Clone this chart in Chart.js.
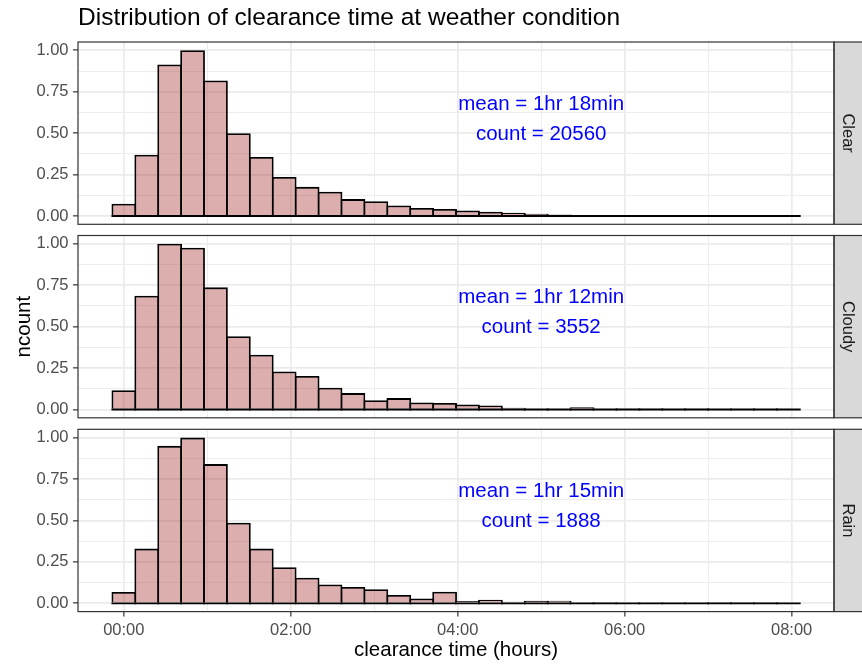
<!DOCTYPE html>
<html>
<head>
<meta charset="utf-8">
<title>Clearance time by weather condition</title>
<script src="https://cdn.jsdelivr.net/npm/chart.js@4.4.1/dist/chart.umd.min.js"></script>
<style>
  html, body { margin: 0; padding: 0; background: #fff; }
  #wrap { position: relative; width: 862px; height: 664px; overflow: hidden; }
  #wrap canvas { position: absolute; left: 0; }
</style>
</head>
<body>
<div id="wrap">
  <canvas id="clear" width="862" height="240" style="top:0px"></canvas>
  <canvas id="cloudy" width="862" height="214" style="top:220px"></canvas>
  <canvas id="rain" width="862" height="250" style="top:414px"></canvas>
</div>
<script>
// histogram bins: 30 bins, one centred on 0h
const binWidth = 0.2745; // hours

const weather = ['Clear', 'Cloudy', 'Rain'];

// ncount per bin (count / max count of the panel)
const clearNcount = [
  0.074, 0.370, 0.914, 1.000, 0.818, 0.500, 0.356, 0.236, 0.176, 0.146,
  0.102, 0.089, 0.064, 0.048, 0.042, 0.034, 0.026, 0.020, 0.014, 0.009,
  0.006, 0.004, 0.003, 0.002, 0.002, 0.001, 0.001, 0.001, 0.001, 0.000
];
const cloudyNcount = [
  0.116, 0.687, 1.000, 0.976, 0.737, 0.442, 0.331, 0.230, 0.202, 0.132,
  0.099, 0.056, 0.069, 0.042, 0.040, 0.030, 0.024, 0.010, 0.005, 0.005,
  0.014, 0.000, 0.003, 0.003, 0.006, 0.003, 0.000, 0.000, 0.000, 0.000
];
const rainNcount = [
  0.068, 0.330, 0.950, 1.000, 0.840, 0.486, 0.330, 0.218, 0.155, 0.114,
  0.098, 0.085, 0.050, 0.029, 0.070, 0.014, 0.022, 0.010, 0.015, 0.016,
  0.000, 0.006, 0.000, 0.000, 0.000, 0.000, 0.004, 0.004, 0.004, 0.000
];

const meanMinutes = [78, 72, 75];
const counts = [20560, 3552, 1888];

const xTickHours = [0, 2, 4, 6, 8];
const xTickLabels = ['00:00', '02:00', '04:00', '06:00', '08:00'];
const xMinorHours = [1, 3, 5, 7];
const yTickValues = [0, 0.25, 0.5, 0.75, 1];
const yTickLabels = ['0.00', '0.25', '0.50', '0.75', '1.00'];
const yMinorValues = [0.125, 0.375, 0.625, 0.875];

Chart.defaults.font.family = "'Liberation Sans', Arial, sans-serif";

const OUTLINE = 1.8;
// bars overlap by one outline width so neighbouring edges share a single line
const BAR_OVERLAP = 1 + OUTLINE / 22.9;

function fmtMean(min) {
  return 'mean = ' + Math.floor(min / 60) + 'hr ' + (min % 60) + 'min';
}

// panel border, facet strip on the right and the mean/count note
const panelDecor = {
  id: 'panelDecor',
  afterDraw(chart, args, opts) {
    const { ctx, chartArea: a } = chart;
    const x = chart.scales.x, y = chart.scales.y;
    ctx.save();

    // note
    ctx.fillStyle = '#0000FF';
    ctx.font = "20.5px 'Liberation Sans', Arial, sans-serif";
    ctx.textAlign = 'center';
    ctx.textBaseline = 'middle';
    const nx = x.getPixelForValue(5);
    const ny = y.getPixelForValue(0.585);
    opts.note.forEach((line, i) => {
      ctx.fillText(line, nx, ny + (i - (opts.note.length - 1) / 2) * 30);
    });

    // strip
    ctx.fillStyle = '#D9D9D9';
    ctx.fillRect(a.right, a.top, 40, a.height);
    ctx.strokeStyle = '#333333';
    ctx.lineWidth = 1.2;
    ctx.strokeRect(a.right, a.top, 40, a.height);
    ctx.fillStyle = '#1A1A1A';
    ctx.font = "16.5px 'Liberation Sans', Arial, sans-serif";
    ctx.translate(a.right + 14, (a.top + a.bottom) / 2);
    ctx.rotate(Math.PI / 2);
    ctx.fillText(opts.strip, 0, 0);
    ctx.restore();

    // panel border
    ctx.save();
    ctx.strokeStyle = '#333333';
    ctx.lineWidth = 1.2;
    ctx.strokeRect(a.left, a.top, a.width, a.height);
    ctx.restore();
  }
};

function makePanel(id, values, idx, extra) {
  const isBottom = !!extra.bottom;
  const xMajor = v => xTickHours.includes(v);
  const yMajor = v => yTickValues.includes(v);
  const centres = values.map((v, i) => i * binWidth);

  return new Chart(document.getElementById(id), {
    type: 'bar',
    data: {
      datasets: [{
        // bin outlines along zero (empty bins show as a flat line)
        data: centres.map(c => ({ x: c, y: 0 })),
        backgroundColor: '#000000',
        borderWidth: 0,
        minBarLength: OUTLINE,
        inflateAmount: 0,
        grouped: false,
        barPercentage: 1,
        categoryPercentage: BAR_OVERLAP
      }, {
        data: values.map((v, i) => ({ x: centres[i], y: v })),
        backgroundColor: 'rgba(165, 42, 42, 0.38)',
        borderColor: '#000000',
        borderWidth: OUTLINE,
        borderSkipped: 'bottom',
        inflateAmount: 0,
        grouped: false,
        barPercentage: 1,
        categoryPercentage: BAR_OVERLAP
      }]
    },
    options: {
      responsive: false,
      animation: false,
      layout: { padding: extra.padding },
      plugins: {
        legend: { display: false },
        tooltip: { enabled: false },
        title: extra.title ? {
          display: true,
          text: extra.title,
          align: 'start',
          fullSize: false,
          color: '#000000',
          font: { size: 24.5, weight: 'normal' },
          padding: { top: 3.5, bottom: 9.1 }
        } : { display: false },
        panelDecor: {
          strip: weather[idx],
          note: [fmtMean(meanMinutes[idx]), 'count = ' + counts[idx]]
        }
      },
      scales: {
        x: {
          type: 'linear',
          min: -0.549,
          max: 8.508,
          offset: false,
          afterBuildTicks: s => {
            s.ticks = xTickHours.concat(xMinorHours).sort((a, b) => a - b).map(v => ({ value: v }));
          },
          afterFit: s => { s.height = isBottom ? extra.axisHeight : 0; },
          border: { display: false },
          grid: {
            offset: false,
            color: '#EBEBEB',
            lineWidth: c => xMajor(c.tick.value) ? 1.7 : 0.9,
            drawTicks: isBottom,
            tickLength: 5,
            tickWidth: 1.2,
            tickColor: c => xMajor(c.tick.value) ? '#333333' : 'rgba(0,0,0,0)'
          },
          ticks: {
            display: isBottom,
            autoSkip: false,
            maxRotation: 0,
            padding: 4,
            color: '#4D4D4D',
            font: { size: 16.5 },
            callback: v => xMajor(v) ? xTickLabels[xTickHours.indexOf(v)] : ''
          },
          title: isBottom ? {
            display: true,
            text: 'clearance time (hours)',
            color: '#000000',
            font: { size: 20.5 },
            padding: { top: 0, bottom: 1.2 }
          } : { display: false }
        },
        y: {
          min: -0.05,
          max: 1.05,
          afterBuildTicks: s => {
            s.ticks = yTickValues.concat(yMinorValues).sort((a, b) => a - b).map(v => ({ value: v }));
          },
          afterFit: s => { s.width = 78; },
          border: { display: false },
          grid: {
            color: '#EBEBEB',
            lineWidth: c => yMajor(c.tick.value) ? 1.7 : 0.9,
            drawTicks: true,
            tickLength: 5,
            tickWidth: 1.2,
            tickColor: c => yMajor(c.tick.value) ? '#333333' : 'rgba(0,0,0,0)'
          },
          ticks: {
            autoSkip: false,
            padding: 4.5,
            color: '#4D4D4D',
            font: { size: 16.5 },
            callback: v => yMajor(v) ? yTickLabels[yTickValues.indexOf(v)] : ''
          },
          title: extra.yTitle ? {
            display: true,
            text: extra.yTitle,
            color: '#000000',
            font: { size: 20.5 },
            padding: { top: 12.5, bottom: 0 }
          } : { display: false }
        }
      }
    },
    plugins: [panelDecor]
  });
}

makePanel('clear', clearNcount, 0, {
  title: 'Distribution of clearance time at weather condition',
  padding: { left: 0, right: 28, top: 0, bottom: 15.7 }
});
makePanel('cloudy', cloudyNcount, 1, {
  yTitle: 'ncount',
  padding: { left: 0, right: 28, top: 15.5, bottom: 16.2 }
});
makePanel('rain', rainNcount, 2, {
  bottom: true,
  axisHeight: 52.4,
  padding: { left: 0, right: 28, top: 15.3, bottom: 0 }
});
</script>
</body>
</html>
